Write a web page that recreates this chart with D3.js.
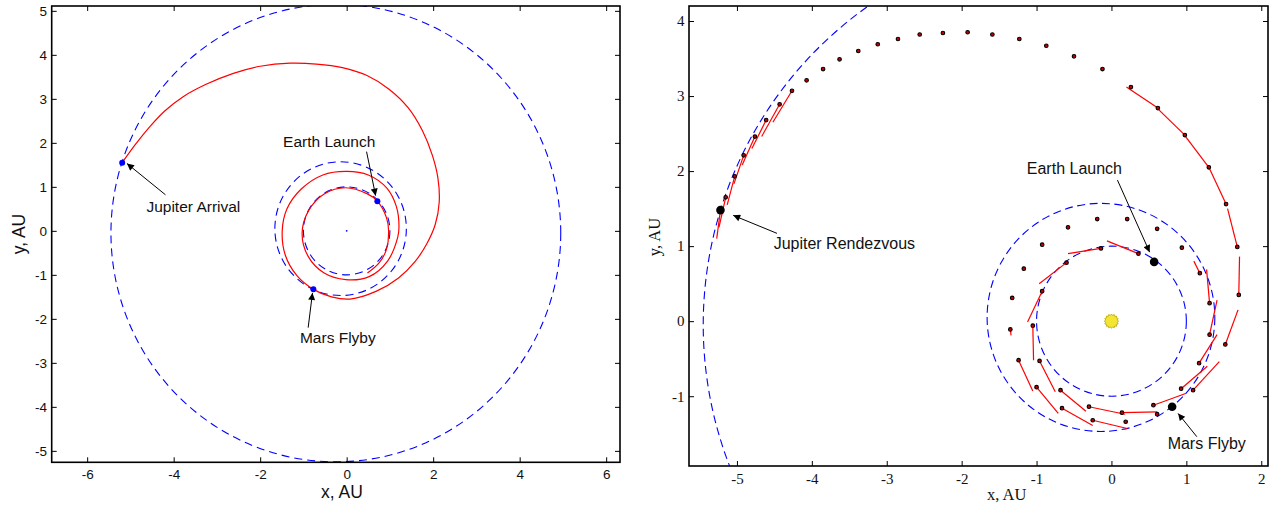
<!DOCTYPE html>
<html>
<head>
<meta charset="utf-8">
<script src="https://cdn.jsdelivr.net/npm/d3@7"></script>
<style>
  body { margin: 0; background: #fff; }
</style>
</head>
<body>
<svg id="fig" width="1273" height="508"></svg>
<script>
// planet orbits, AU (centre and radius)
const orbitName = ["Earth", "Mars", "Jupiter"];
const orbitCx = [0, -0.14, -0.25];
const orbitCy = [0, 0.05, -0.05];
const orbitR = [1.0, 1.52, 5.2];

// left plot: trajectory, AU
const trajX = [0.48, 0.75, 0.92, 0.97, 0.92, 0.71, 0.48, -0.02, -0.52, -0.88, -1.03, -0.89, -0.52, -0.02,
  0.52, 0.95, 1.18, 1.21, 1.15, 0.93, 0.5, 0.0, -0.55, -1.05, -1.38, -1.49, -1.42, -1.15, -0.77,
  -0.35, 0.08, 0.69, 1.2, 1.58, 1.85, 2.05, 2.14, 2.11, 1.98, 1.75, 1.42, 0.98, 0.47, -0.1, -0.7,
  -1.31, -2.0, -2.62, -3.25, -3.78, -4.2, -4.55, -4.88, -5.19];
const trajY = [-0.96, -0.73, -0.42, 0.0, 0.3, 0.675, 0.84, 0.98, 0.84, 0.46, -0.06, -0.58, -0.96, -1.11,
  -1.04, -0.68, -0.15, 0.1, 0.55, 0.97, 1.27, 1.35, 1.27, 0.95, 0.5, 0.0, -0.55, -1.02, -1.33,
  -1.5, -1.55, -1.37, -1.07, -0.7, -0.3, 0.15, 0.65, 1.2, 1.72, 2.28, 2.8, 3.22, 3.53, 3.71, 3.79,
  3.81, 3.74, 3.58, 3.33, 3.05, 2.73, 2.37, 1.97, 1.55];
const eventNameL = ["Earth Launch", "Mars Flyby", "Jupiter Arrival"];
const eventXL = [0.71, -0.77, -5.19];
const eventYL = [0.675, -1.33, 1.55];

// right plot: sampled states and thrust vector tips, AU (null = coasting)
const dotX = [0.36, -0.14, -0.6, -0.925, -1.05, -0.96, -0.68, -0.3, 0.14, 0.56, 0.93, 1.17, 1.31, 1.31, 1.18,
  0.94, 0.61, 0.21, -0.19, -0.58, -0.925, -1.17, -1.325, -1.35, -1.24, -1.0, -0.66, -0.25, 0.19, 0.61,
  1.09, 1.52, 1.7, 1.68, 1.53, 1.3, 0.98, 0.62, 0.26, -0.12, -0.5, -0.87, -1.23, -1.59, -1.92, -2.25,
  -2.56, -2.85, -3.12, -3.38, -3.63, -3.85, -4.07, -4.265, -4.43, -4.61, -4.76, -4.91, -5.03, -5.15];
const dotY = [0.9, 0.97, 0.78, 0.4, -0.06, -0.53, -0.92, -1.14, -1.22, -1.12, -0.9, -0.56, -0.18, 0.24, 0.64,
  0.98, 1.23, 1.36, 1.36, 1.25, 1.02, 0.7, 0.31, -0.11, -0.52, -0.88, -1.16, -1.32, -1.34, -1.24,
  -0.92, -0.31, 0.35, 0.99, 1.56, 2.05, 2.48, 2.84, 3.12, 3.36, 3.53, 3.67, 3.76, 3.82, 3.85, 3.84,
  3.82, 3.76, 3.69, 3.6, 3.49, 3.36, 3.21, 3.07, 2.89, 2.68, 2.46, 2.21, 1.93, 1.65];
const thrustX = [-0.06, -0.58, -0.965, -1.12, -1.04, -0.75, -0.34, 0.18, 0.61, 1.0, 1.28, 1.41, 1.41, 1.27, 1.1,
  null, null, null, null, null, null, null, null, -1.34, -1.05, -0.71, -0.25, 0.21, null, null,
  1.44, 1.69, 1.71, 1.55, 1.31, 0.99, 0.63, 0.2, null, null, null, null, null, null, null, null,
  null, null, null, null, null, null, null, -4.52, -4.67, -4.8, -4.93, -5.04, -5.13, -5.24];
const thrustY = [1.07, 0.9, 0.5, -0.01, -0.52, -0.94, -1.2, -1.24, -1.21, -0.96, -0.6, -0.18, 0.28, 0.69, 0.8,
  null, null, null, null, null, null, null, null, -0.19, -0.93, -1.23, -1.39, -1.43, null, null,
  -0.54, 0.15, 0.86, 1.5, 2.03, 2.46, 2.82, 3.12, null, null, null, null, null, null, null, null,
  null, null, null, null, null, null, null, 2.65, 2.46, 2.3, 2.08, 1.83, 1.55, 1.25];
const eventNameR = ["Earth Launch", "Mars Flyby", "Jupiter Rendezvous"];
const eventXR = [0.57, 0.81, -5.22];
const eventYR = [0.79, -1.14, 1.48];
const eventThrustXR = [null, null, -5.27];
const eventThrustYR = [null, null, 1.1];

let svg = d3.select("#fig");

let defs = svg.append("defs");
defs.append("marker")
    .attr("id", "head")
    .attr("viewBox", "0 0 10 10")
    .attr("refX", 10).attr("refY", 5)
    .attr("markerWidth", 9).attr("markerHeight", 7)
    .attr("markerUnits", "userSpaceOnUse")
    .attr("orient", "auto")
  .append("path")
    .attr("d", "M0,0L10,5L0,10z")
    .attr("fill", "#000");

// box with inward ticks on all four sides
function drawAxes(g, x, y, xt, yt, opt) {
    let x0 = x.range()[0], x1 = x.range()[1], y0 = y.range()[0], y1 = y.range()[1];
    g.append("g").attr("transform", "translate(0," + y0 + ")")
        .call(d3.axisBottom(x).tickValues(xt).tickFormat(d => d).tickSize(-5).tickSizeOuter(0).tickPadding(opt.padX));
    g.append("g").attr("transform", "translate(0," + y1 + ")")
        .call(d3.axisTop(x).tickValues(xt).tickFormat("").tickSize(-5).tickSizeOuter(0));
    g.append("g").attr("transform", "translate(" + x0 + ",0)")
        .call(d3.axisLeft(y).tickValues(yt).tickFormat(d => d).tickSize(-5).tickSizeOuter(0).tickPadding(opt.padY));
    g.append("g").attr("transform", "translate(" + x1 + ",0)")
        .call(d3.axisRight(y).tickValues(yt).tickFormat("").tickSize(-5).tickSizeOuter(0));
    g.selectAll(".domain").remove();
    g.selectAll(".tick line").attr("stroke", "#000");
    g.selectAll(".tick text")
        .style("font-family", opt.font)
        .style("font-size", opt.size + "px")
        .attr("fill", "#111");
    g.append("rect")
        .attr("x", x0).attr("y", y1)
        .attr("width", x1 - x0).attr("height", y0 - y1)
        .attr("fill", "none").attr("stroke", "#000").attr("stroke-width", 1.6);
}

function drawOrbits(g, x, y, dash) {
    g.selectAll(".orbit")
        .data(d3.range(orbitName.length))
        .enter().append("ellipse")
        .attr("class", "orbit")
        .attr("cx", i => x(orbitCx[i]))
        .attr("cy", i => y(orbitCy[i]))
        .attr("rx", i => x(orbitCx[i] + orbitR[i]) - x(orbitCx[i]))
        .attr("ry", i => y(orbitCy[i]) - y(orbitCy[i] + orbitR[i]))
        .attr("fill", "none")
        .attr("stroke", "#0000ff")
        .attr("stroke-width", 1.1)
        .attr("stroke-dasharray", dash);
}

function drawNote(g, x, y, n, font, size) {
    g.append("line")
        .attr("x1", x(n.ax)).attr("y1", y(n.ay))
        .attr("x2", x(n.hx)).attr("y2", y(n.hy))
        .attr("stroke", "#000").attr("stroke-width", 1)
        .attr("marker-end", "url(#head)");
    g.append("text")
        .attr("x", x(n.tx)).attr("y", y(n.ty))
        .style("font-family", font)
        .style("font-size", size + "px")
        .attr("fill", "#111")
        .text(n.text);
}

//---------------- left plot
let xL = d3.scaleLinear().domain([-6.82, 6.32]).range([51.7, 620]),
    yL = d3.scaleLinear().domain([-5.26, 5.11]).range([462.3, 6]);
let gL = svg.append("g");
defs.append("clipPath").attr("id", "clipL").append("rect")
    .attr("x", 51.7).attr("y", 6).attr("width", 620 - 51.7).attr("height", 462.3 - 6);
let plotL = gL.append("g").attr("clip-path", "url(#clipL)");

drawOrbits(plotL, xL, yL, "8,5");

plotL.append("path")
    .datum(d3.range(trajX.length))
    .attr("d", d3.line().x(i => xL(trajX[i])).y(i => yL(trajY[i])).curve(d3.curveCatmullRom))
    .attr("fill", "none")
    .attr("stroke", "#ff0000")
    .attr("stroke-width", 1.2);

plotL.append("circle").attr("cx", xL(0)).attr("cy", yL(0)).attr("r", 0.9).attr("fill", "#0000ff");

plotL.selectAll(".event")
    .data(d3.range(eventNameL.length))
    .enter().append("circle")
    .attr("class", "event")
    .attr("cx", i => xL(eventXL[i]))
    .attr("cy", i => yL(eventYL[i]))
    .attr("r", 3)
    .attr("fill", "#0000ff");

drawAxes(gL, xL, yL, [-6, -4, -2, 0, 2, 4, 6], [-5, -4, -3, -2, -1, 0, 1, 2, 3, 4, 5],
    {font: "'Liberation Sans', Arial, sans-serif", size: 13.5, padX: 7.3, padY: 4.7});

let notesL = [
    {text: eventNameL[0], tx: -1.47, ty: 1.91, ax: 0.46, ay: 1.8, hx: 0.67, hy: 0.8},
    {text: eventNameL[1], tx: -1.08, ty: -2.55, ax: -0.89, ay: -2.2, hx: -0.79, hy: -1.41},
    {text: eventNameL[2], tx: -4.63, ty: 0.43, ax: -4.19, ay: 0.82, hx: -5.08, hy: 1.53}
];
notesL.forEach(n => drawNote(gL, xL, yL, n, "'Liberation Sans', Arial, sans-serif", 15.5));

gL.append("text")
    .attr("x", 342).attr("y", 498)
    .attr("text-anchor", "middle")
    .style("font", "17.5px 'Liberation Sans', Arial, sans-serif")
    .attr("fill", "#111")
    .text("x, AU");
gL.append("text")
    .attr("transform", "translate(25,234) rotate(-90)")
    .attr("text-anchor", "middle")
    .style("font", "17.5px 'Liberation Sans', Arial, sans-serif")
    .attr("fill", "#111")
    .text("y, AU");

//---------------- right plot
let xR = d3.scaleLinear().domain([-5.64, 2.09]).range([689, 1268]),
    yR = d3.scaleLinear().domain([-1.93, 4.2]).range([466, 6]);
let gR = svg.append("g");
defs.append("clipPath").attr("id", "clipR").append("rect")
    .attr("x", 689).attr("y", 6).attr("width", 1268 - 689).attr("height", 466 - 6);
let plotR = gR.append("g").attr("clip-path", "url(#clipR)");

drawOrbits(plotR, xR, yR, "8,4.5");

// the sun
let sunPts = d3.range(32).map(k => [k / 32 * 2 * Math.PI, k % 2 ? 5.8 : 7.2]);
plotR.append("path")
    .attr("transform", "translate(" + xR(0) + "," + yR(0) + ")")
    .attr("d", d3.lineRadial().curve(d3.curveLinearClosed)(sunPts))
    .attr("fill", "#f5e533")
    .attr("stroke", "#b8a800")
    .attr("stroke-width", 0.8);

let withThrust = d3.range(dotX.length).filter(i => thrustX[i] !== null);
plotR.selectAll(".thrust")
    .data(withThrust)
    .enter().append("line")
    .attr("class", "thrust")
    .attr("x1", i => xR(dotX[i])).attr("y1", i => yR(dotY[i]))
    .attr("x2", i => xR(thrustX[i])).attr("y2", i => yR(thrustY[i]))
    .attr("stroke", "#ff0000")
    .attr("stroke-width", 1.2);
plotR.selectAll(".ethrust")
    .data(d3.range(eventNameR.length).filter(i => eventThrustXR[i] !== null))
    .enter().append("line")
    .attr("class", "ethrust")
    .attr("x1", i => xR(eventXR[i])).attr("y1", i => yR(eventYR[i]))
    .attr("x2", i => xR(eventThrustXR[i])).attr("y2", i => yR(eventThrustYR[i]))
    .attr("stroke", "#ff0000")
    .attr("stroke-width", 1.2);

plotR.selectAll(".dot")
    .data(d3.range(dotX.length))
    .enter().append("circle")
    .attr("class", "dot")
    .attr("cx", i => xR(dotX[i]))
    .attr("cy", i => yR(dotY[i]))
    .attr("r", 1.8)
    .attr("fill", "#c00000")
    .attr("stroke", "#000")
    .attr("stroke-width", 1.1);

plotR.selectAll(".event")
    .data(d3.range(eventNameR.length))
    .enter().append("circle")
    .attr("class", "event")
    .attr("cx", i => xR(eventXR[i]))
    .attr("cy", i => yR(eventYR[i]))
    .attr("r", 4.3)
    .attr("fill", "#000");

drawAxes(gR, xR, yR, [-5, -4, -3, -2, -1, 0, 1, 2], [-1, 0, 1, 2, 3, 4],
    {font: "'Liberation Serif', 'Times New Roman', serif", size: 15, padX: 7.3, padY: 4.5});

let notesR = [
    {text: eventNameR[0], tx: -1.13, ty: 1.96, ax: 0.08, ay: 1.88, hx: 0.51, hy: 0.92},
    {text: eventNameR[1], tx: 0.75, ty: -1.71, ax: 1.14, ay: -1.54, hx: 0.89, hy: -1.23},
    {text: eventNameR[2], tx: -4.51, ty: 0.96, ax: -4.465, ay: 1.17, hx: -5.05, hy: 1.41}
];
notesR.forEach(n => drawNote(gR, xR, yR, n, "'Liberation Sans', Arial, sans-serif", 16));

gR.append("text")
    .attr("x", 1006.7).attr("y", 500)
    .attr("text-anchor", "middle")
    .style("font", "16.5px 'Liberation Serif', 'Times New Roman', serif")
    .attr("fill", "#111")
    .text("x, AU");
gR.append("text")
    .attr("transform", "translate(660,237) rotate(-90)")
    .attr("text-anchor", "middle")
    .style("font", "16.5px 'Liberation Serif', 'Times New Roman', serif")
    .attr("fill", "#111")
    .text("y, AU");
</script>
</body>
</html>
